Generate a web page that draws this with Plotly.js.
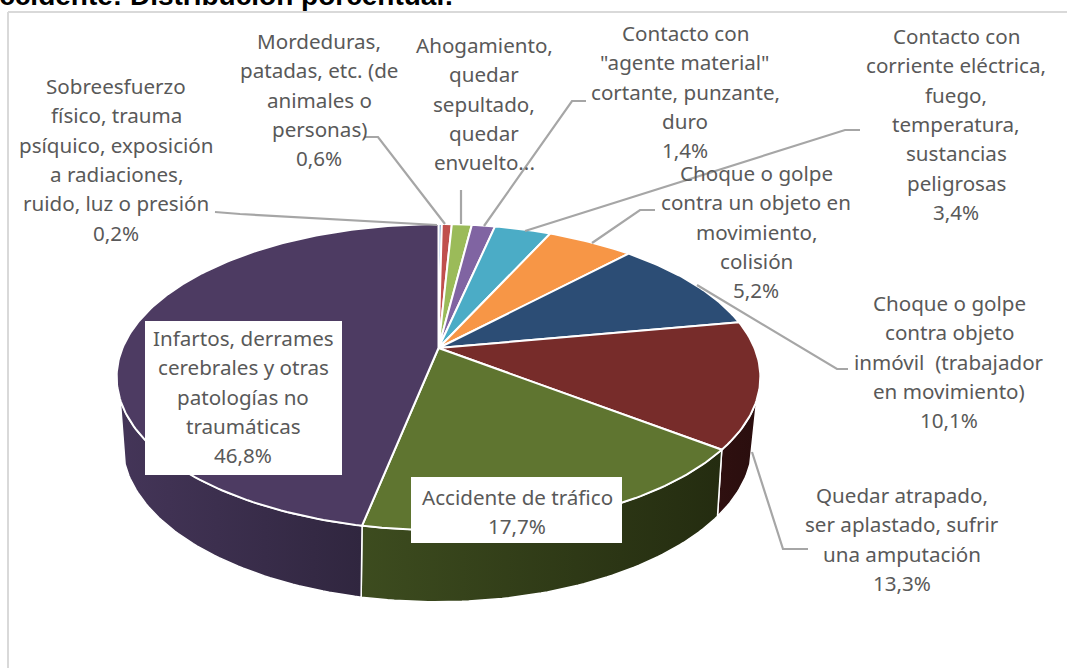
<!DOCTYPE html>
<html><head><meta charset="utf-8">
<script src="https://cdn.plot.ly/plotly-3.0.1.min.js"></script>
<style>html,body{margin:0;padding:0;background:#fff;overflow:hidden}</style>
</head><body><div id="chart" style="width:1067px;height:668px"></div>
<script>
// ---- data (order is clockwise from 12 o'clock) ----
const categories = [
 "Sobreesfuerzo físico, trauma psíquico, exposición a radiaciones, ruido, luz o presión",
 "Mordeduras, patadas, etc. (de animales o personas)",
 "Ahogamiento, quedar sepultado, quedar envuelto...",
 "Contacto con \"agente material\" cortante, punzante, duro",
 "Contacto con corriente eléctrica, fuego, temperatura, sustancias peligrosas",
 "Choque o golpe contra un objeto en movimiento, colisión",
 "Choque o golpe contra objeto inmóvil (trabajador en movimiento)",
 "Quedar atrapado, ser aplastado, sufrir una amputación",
 "Accidente de tráfico",
 "Infartos, derrames cerebrales y otras patologías no traumáticas"];
const values = [0.2,0.6,1.2,1.4,3.4,5.2,10.1,13.3,17.7,46.8];
const labelLines = [
 ["Sobreesfuerzo","físico, trauma","psíquico, exposición","a radiaciones,","ruido, luz o presión","0,2%"],
 ["Mordeduras,","patadas, etc. (de","animales o","personas)","0,6%"],
 ["Ahogamiento,","quedar","sepultado,","quedar","envuelto..."],
 ["Contacto con","\"agente material\"","cortante, punzante,","duro","1,4%"],
 ["Contacto con","corriente eléctrica,","fuego,","temperatura,","sustancias","peligrosas","3,4%"],
 ["Choque o golpe","contra un objeto en","movimiento,","colisión","5,2%"],
 ["Choque o golpe","contra objeto","inmóvil  (trabajador","en movimiento)","10,1%"],
 ["Quedar atrapado,","ser aplastado, sufrir","una amputación","13,3%"],
 ["Accidente de tráfico","17,7%"],
 ["Infartos, derrames","cerebrales y otras","patologías no","traumáticas","46,8%"]];
const titleText = "<b>Accidente: Distribución porcentual:</b>";

// ---- styles and layout ----
const topColors = ["#4F81BD","#C0504D","#9BBB59","#8064A2","#4BACC6","#F79646","#2C4D75","#772C2A","#5F7530","#4D3B62"];
const wallLeft  = {7:"#2f1010",8:"#3d4c1f",9:"#443558"};
const wallRight = {7:"#2a0e0e",8:"#242c10",9:"#30263f"};
const labelCenterX = [116,319,484,685,956,756,949,902,517,243];
const labelFirstY  = [86,41,45,33,36,173,303,495,497,338];
const lineStep = 29.3;
const leaders = [
 [[215,212],[240,214],[437,225]],
 [[365,137],[378,137],[445,224]],
 [[461,190],[461,224]],
 [[586,101],[572,101],[484,226]],
 [[860,130],[845,130],[525,231]],
 [[655,210],[640,210],[592,243]],
 [[848,369],[837,369],[697,285]],
 [[808,549],[783,549],[752,452]]];
const whiteBoxes = [[145,321,342,475],[411,477,622,543]];
const TEXT = "#595959", FONT = "Noto Sans, sans-serif";

// perspective disc: t=-cos(theta), u=sin(theta)
const topRim    = {x0:438.5,y0:348,A:147.5,B:316,k:0.19};
const bottomRim = {x0:437.5,y0:410.7,A:151,B:308,k:0.21};
function rim(g,deg){const a=deg*Math.PI/180,u=Math.sin(a),t=-Math.cos(a),w=1-g.k*t;
  return [g.x0+g.B*u/w, g.y0+g.A*t/w];}
function arc(g,a,b){const p=[],n=Math.max(2,Math.ceil(Math.abs(b-a)));
  for(let i=0;i<=n;i++)p.push(rim(g,a+(b-a)*i/n));return p;}
const total = values.reduce((s,v)=>s+v,0);
const wallFrom = 109.3, wallTo = 250.7;

const traces=[];
let cum=0;
const bounds = values.map(v=>{const a=cum/total*360;cum+=v;return [a,cum/total*360];});
// side walls
bounds.forEach(([a,b],i)=>{
  const s=Math.max(a,wallFrom),e=Math.min(b,wallTo);
  if(e<=s)return;
  const pts=arc(topRim,s,e).concat(arc(bottomRim,e,s));pts.push(pts[0]);
  traces.push({type:"scatter",mode:"lines",x:pts.map(p=>p[0]),y:pts.map(p=>p[1]),fill:"toself",
    fillgradient:{type:"horizontal",colorscale:[[0,wallLeft[i]],[1,wallRight[i]]]},
    line:{color:"#ffffff",width:1.5},hoverinfo:"skip",showlegend:false,name:categories[i]+" (lado)"});
});
// top face
bounds.forEach(([a,b],i)=>{
  const pts=[[topRim.x0,topRim.y0]].concat(arc(topRim,a,b));pts.push(pts[0]);
  traces.push({type:"scatter",mode:"lines",x:pts.map(p=>p[0]),y:pts.map(p=>p[1]),fill:"toself",
    fillcolor:topColors[i],line:{color:"#ffffff",width:2},hoverinfo:"skip",showlegend:false,name:categories[i]});
});
// leader lines
leaders.forEach(l=>traces.push({type:"scatter",mode:"lines",x:l.map(p=>p[0]),y:l.map(p=>p[1]),
  line:{color:"#a6a6a6",width:2.2},hoverinfo:"skip",showlegend:false}));

const annotations=[];
labelLines.forEach((lines,i)=>lines.forEach((s,j)=>annotations.push({
  xref:"x",yref:"y",x:labelCenterX[i],y:labelFirstY[i]+j*lineStep,text:s,showarrow:false,
  xanchor:"center",yanchor:"middle",font:{family:FONT,size:20.6,color:TEXT}})));
annotations.push({xref:"x",yref:"y",x:456,y:13,text:titleText,showarrow:false,xanchor:"right",yanchor:"bottom",
  font:{family:"Liberation Sans, Arial, sans-serif",size:28,color:"#000000"}});

const shapes=[
 {type:"line",xref:"x",yref:"y",x0:8,x1:1067,y0:12,y1:12,line:{color:"#d9d9d9",width:2}},
 {type:"line",xref:"x",yref:"y",x0:8,x1:8,y0:12,y1:668,line:{color:"#d9d9d9",width:2}}
].concat(whiteBoxes.map(b=>({type:"rect",xref:"x",yref:"y",x0:b[0],y0:b[1],x1:b[2],y1:b[3],
  fillcolor:"#ffffff",line:{width:0},layer:"above"})));

Plotly.newPlot("chart",traces,{
  width:1067,height:668,margin:{l:0,r:0,t:0,b:0},paper_bgcolor:"#fff",plot_bgcolor:"#fff",showlegend:false,
  xaxis:{range:[0,1067],visible:false,fixedrange:true},
  yaxis:{range:[668,0],visible:false,fixedrange:true},
  shapes:shapes,annotations:annotations
},{displayModeBar:false,staticPlot:true});
</script></body></html>
